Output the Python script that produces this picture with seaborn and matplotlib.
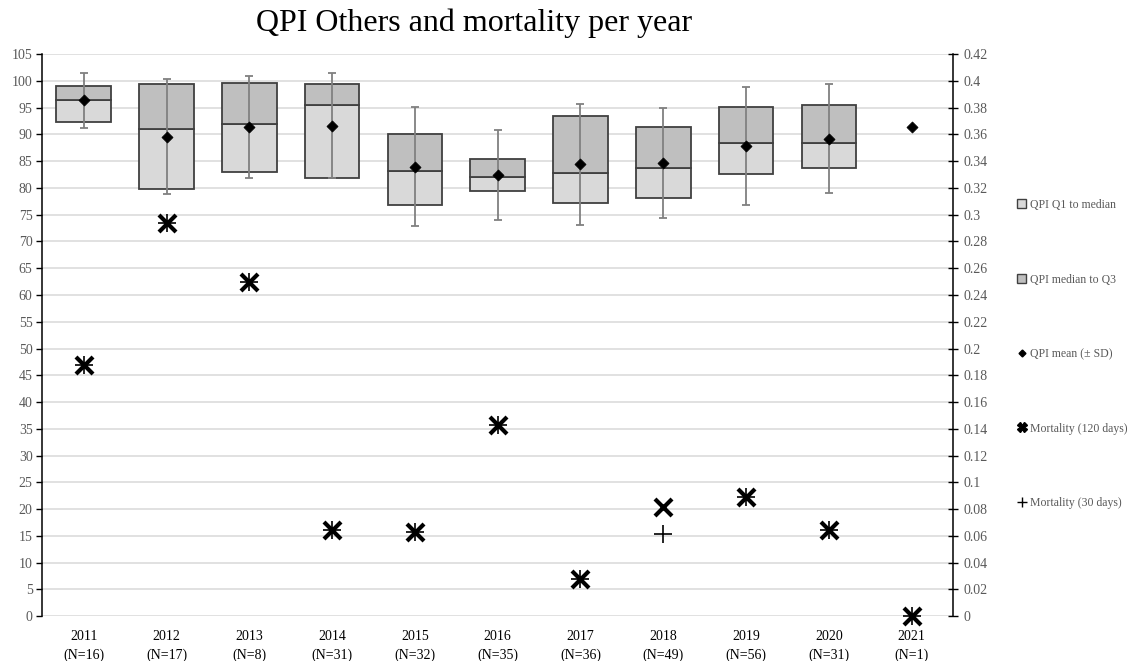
import numpy as np
import pandas as pd
import matplotlib
matplotlib.use("Agg")
import matplotlib.pyplot as plt
import seaborn as sns
from matplotlib.lines import Line2D
from matplotlib.patches import Patch
from matplotlib.ticker import FuncFormatter

# ---------------- data ----------------
years = ["2011", "2012", "2013", "2014", "2015", "2016", "2017", "2018", "2019", "2020", "2021"]
n_patients = [16, 17, 8, 31, 32, 35, 36, 49, 56, 31, 1]
qpi_q1 = [92.4, 79.9, 82.9, 81.8, 76.9, 79.4, 77.1, 78.1, 82.6, 83.7, np.nan]
qpi_median = [96.4, 91.0, 92.0, 95.5, 83.1, 82.1, 82.8, 83.7, 88.4, 88.4, np.nan]
qpi_q3 = [99.0, 99.5, 99.6, 99.5, 90.1, 85.4, 93.5, 91.4, 95.2, 95.6, np.nan]
qpi_mean = [96.4, 89.6, 91.4, 91.6, 84.0, 82.4, 84.4, 84.7, 87.8, 89.2, 91.4]
qpi_sd = [5.1, 10.8, 9.6, 9.8, 11.1, 8.4, 11.3, 10.3, 11.0, 10.2, np.nan]
mortality_120 = [0.1875, 0.294, 0.25, 0.0645, 0.0625, 0.143, 0.0278, 0.0816, 0.0893, 0.0645, 0.0]
mortality_30 = [0.1875, 0.294, 0.25, 0.0645, 0.0625, 0.143, 0.0278, 0.0612, 0.0893, 0.0645, 0.0]

title = "QPI Others and mortality per year"
legend_labels = ["QPI Q1 to median", "QPI median to Q3", "QPI mean (\u00b1 SD)",
                 "Mortality (120 days)", "Mortality (30 days)"]

df = pd.DataFrame({
    "year": years, "n": n_patients, "q1": qpi_q1, "median": qpi_median,
    "q3": qpi_q3, "mean": qpi_mean, "sd": qpi_sd,
    "m120": mortality_120, "m30": mortality_30,
})
df["pos"] = np.arange(len(df))
boxes = df.dropna(subset=["q1", "median", "q3"])

# ---------------- style ----------------
sns.set_theme(style="white")
plt.rcParams["font.family"] = ["Liberation Serif", "DejaVu Serif"]

LIGHT = "#d9d9d9"
DARK = "#bfbfbf"
EDGE = "#404040"
GRID = "#d9d9d9"
TICKTXT = "#595959"

fig = plt.figure(figsize=(11.32, 6.61), dpi=100)
ax = fig.add_axes([0.0374, 0.068, 0.8045, 0.850])
ax.set_axisbelow(True)

# boxes (stacked: Q1->median, median->Q3)
bw = 0.66
ax.bar(boxes["pos"], boxes["median"] - boxes["q1"], bottom=boxes["q1"], width=bw,
       color=LIGHT, edgecolor=EDGE, linewidth=1.3, zorder=2)
ax.bar(boxes["pos"], boxes["q3"] - boxes["median"], bottom=boxes["median"], width=bw,
       color=DARK, edgecolor=EDGE, linewidth=1.3, zorder=2)

# mean +- SD
ax.errorbar(df["pos"], df["mean"], yerr=df["sd"], fmt="none", ecolor="#808080",
            elinewidth=1.3, capsize=2.6, capthick=1.3, zorder=3)
sns.scatterplot(data=df, x="pos", y="mean", marker="D", s=32, color="black",
                edgecolor="black", linewidth=0.5, ax=ax, zorder=4, legend=False)

ax.set_xlim(-0.5, len(years) - 0.5)
ax.set_ylim(0, 105)
ax.set_yticks(np.arange(0, 106, 5))
ax.yaxis.grid(True, color=GRID, linewidth=1.1)
ax.xaxis.grid(False)
ax.set_xticks(df["pos"])
ax.set_xticklabels([f"{y}\n(N={n})" for y, n in zip(df["year"], df["n"])],
                   fontsize=10, color="black", linespacing=1.5)
ax.tick_params(axis="x", length=0, pad=10)
ax.tick_params(axis="y", direction="out", length=4, width=1, color="black",
               labelsize=10, labelcolor=TICKTXT, pad=3)
ax.set_xlabel("")
ax.set_ylabel("")
for s in ["top", "right", "bottom"]:
    ax.spines[s].set_visible(False)
ax.spines["left"].set_color("black")
ax.spines["left"].set_linewidth(1.1)

# secondary axis: mortality
ax2 = ax.twinx()
sns.scatterplot(data=df, x="pos", y="m30", marker="+", s=170, color="black",
                linewidth=1.2, ax=ax2, zorder=5, legend=False, clip_on=False)
sns.scatterplot(data=df, x="pos", y="m120", marker="x", s=150, color="black",
                linewidth=3.0, ax=ax2, zorder=5, legend=False, clip_on=False)
ax2.set_ylim(0, 0.42)
r_ticks = np.round(np.arange(0, 0.4201, 0.02), 2)
ax2.set_yticks(r_ticks)
ax2.yaxis.set_major_formatter(FuncFormatter(lambda v, p: f"{round(v, 2):g}"))
ax2.tick_params(axis="y", direction="inout", length=7, width=1, color="black",
                labelsize=10, labelcolor=TICKTXT, pad=4)
ax2.set_ylabel("")
ax2.set_xlabel("")
ax2.grid(False)
for s in ["top", "left", "bottom"]:
    ax2.spines[s].set_visible(False)
ax2.spines["right"].set_color("black")
ax2.spines["right"].set_linewidth(1.1)
ax2.set_xlim(-0.5, len(years) - 0.5)

# title
fig.text(474 / 1132, 1 - 23 / 661, title, ha="center", va="center",
         fontsize=23, color="black")

# legend
handles = [
    Patch(facecolor=LIGHT, edgecolor=EDGE, linewidth=1.0),
    Patch(facecolor=DARK, edgecolor=EDGE, linewidth=1.0),
    Line2D([], [], linestyle="none", marker="D", markersize=3.5, color="black"),
    Line2D([], [], linestyle="none", marker="X", markersize=6.5, color="black"),
    Line2D([], [], linestyle="none", marker="+", markersize=6.5, color="black",
           markeredgewidth=1.0),
]
fig.legend(handles, legend_labels, loc="upper left",
           bbox_to_anchor=(1017 / 1132, 1 - 199 / 661), frameon=False,
           fontsize=8.5, labelcolor=TICKTXT, labelspacing=5.3,
           handlelength=0.8, handleheight=0.8, handletextpad=0.3,
           borderpad=0, borderaxespad=0)

fig.savefig("out.png", dpi=100)
